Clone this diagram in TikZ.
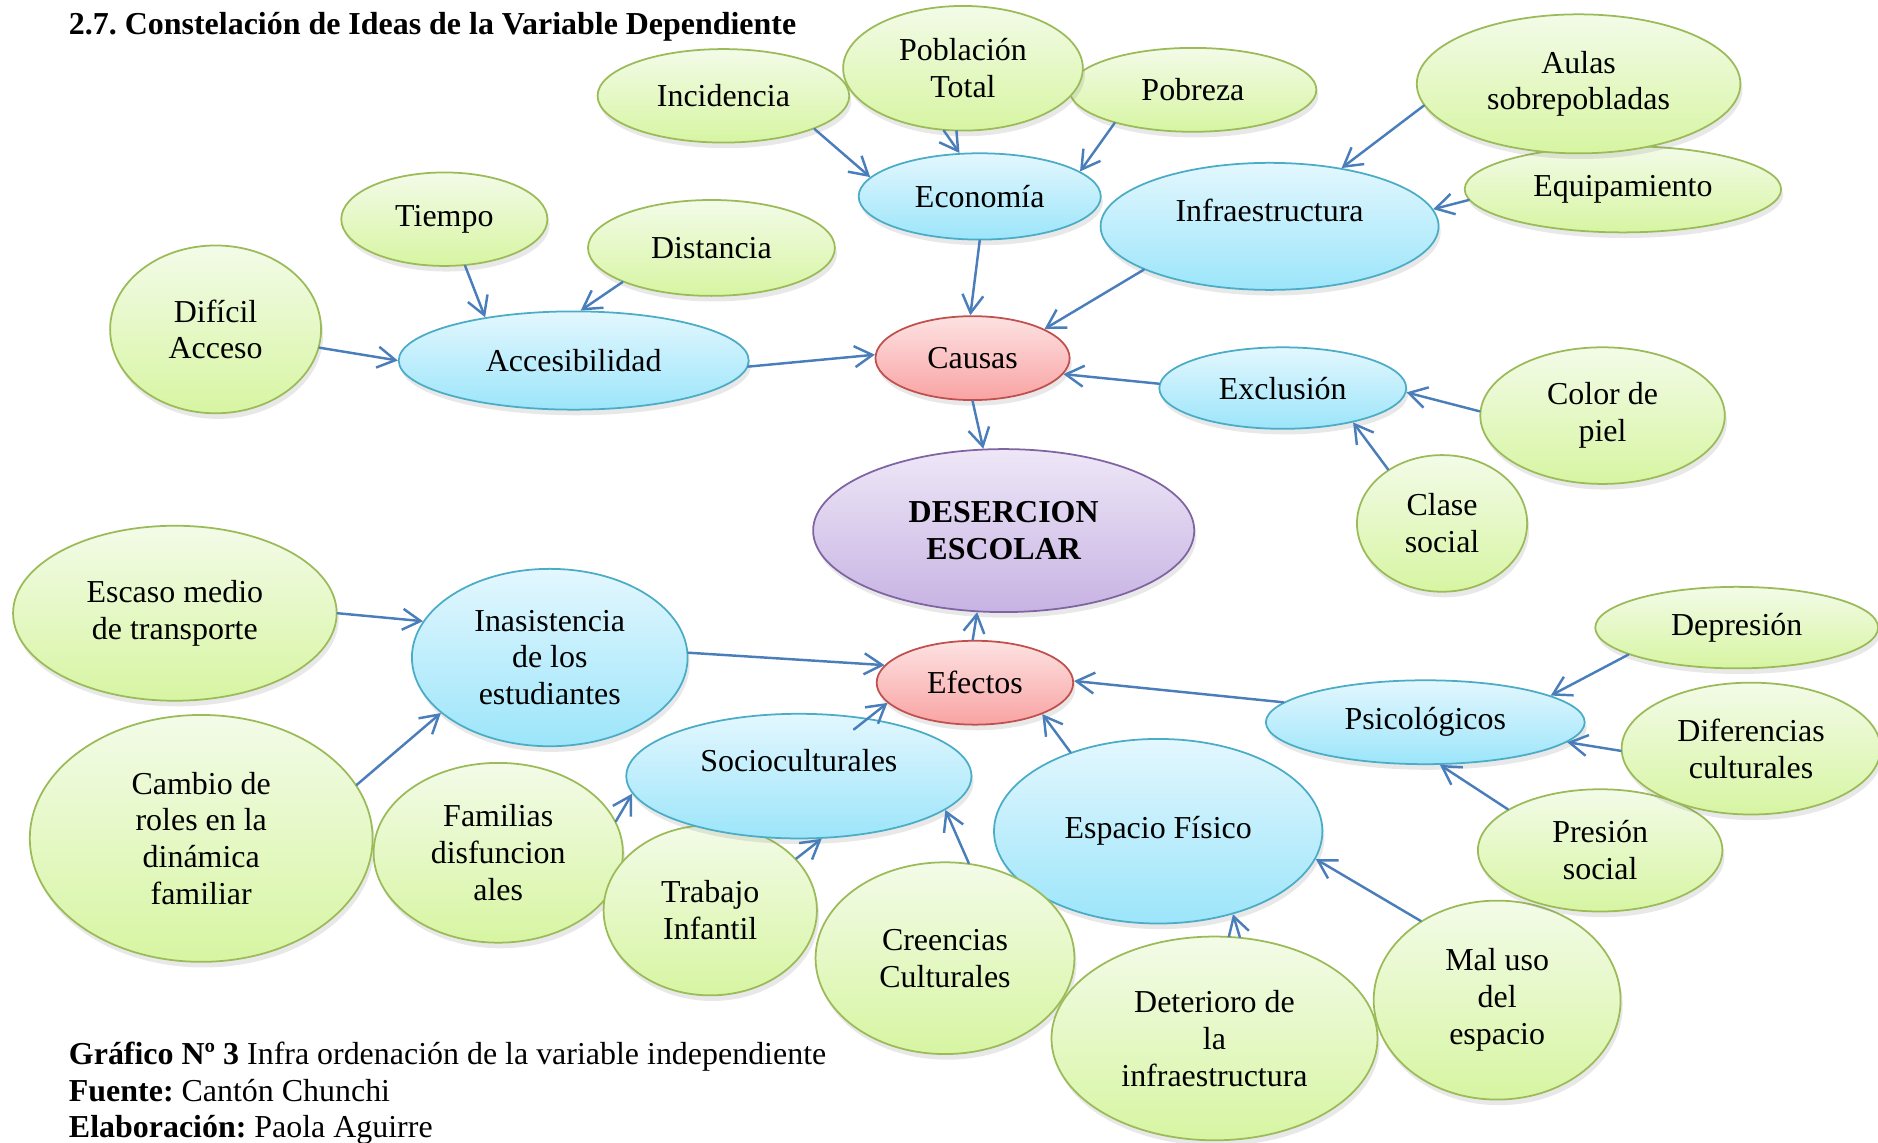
\documentclass[tikz,border=0pt]{standalone}
\usepackage{fontspec}
\setmainfont{Liberation Serif}
\frenchspacing
\usetikzlibrary{shapes.geometric,shadows,arrows.meta}
\definecolor{hojaborde}{HTML}{9BBB59}
\definecolor{hojaarriba}{HTML}{F3FBE8}
\definecolor{hojaabajo}{HTML}{D7F5A2}
\definecolor{ramaborde}{HTML}{4BACC6}
\definecolor{ramaarriba}{HTML}{E3F7FE}
\definecolor{ramaabajo}{HTML}{9CE5FA}
\definecolor{rojoborde}{HTML}{C0504D}
\definecolor{rojoarriba}{HTML}{FDE2E2}
\definecolor{rojoabajo}{HTML}{F9A3A3}
\definecolor{lilaborde}{HTML}{8064A2}
\definecolor{lilaarriba}{HTML}{EEE7F7}
\definecolor{lilaabajo}{HTML}{C7B3E3}
\definecolor{flechaazul}{HTML}{4A7EBB}
\begin{document}
\begin{tikzpicture}[x=0.012cm, y=-0.012cm, font=\fontsize{9.1}{10.5}\selectfont,
    line join=round, line cap=round, >={Straight Barb[length=1.8mm,width=2.1mm]},
    burbuja/.style={ellipse, inner sep=0pt, align=center, line width=0.5pt,
      drop shadow={shadow xshift=0.6pt, shadow yshift=-1.6pt, opacity=0.18}},
    hoja/.style={burbuja, draw=hojaborde, top color=hojaarriba, bottom color=hojaabajo},
    rama/.style={burbuja, draw=ramaborde, top color=ramaarriba, bottom color=ramaabajo},
    nucleo/.style={burbuja, draw=rojoborde, top color=rojoarriba, bottom color=rojoabajo},
    centro/.style={burbuja, draw=lilaborde, top color=lilaarriba, bottom color=lilaabajo},
    tam/.style 2 args={minimum width=#1*0.024cm, minimum height=#2*0.024cm},
    arriba/.style={text depth=0.32cm},
    flecha/.style={->, draw=flechaazul, line width=0.7pt},
    texto/.style={anchor=base west, inner sep=0pt}]
  \useasboundingbox (0,0) rectangle (1568,954);
  \node[texto, font=\fontsize{9.1}{10.5}\selectfont\bfseries] (titulo) at (57,29) {2.7. Constelación de Ideas de la Variable Dependiente};
  % causas
  \node[hoja, tam={105}{39}] (incid) at (604,80) {Incidencia};
  \node[hoja, tam={103}{35}] (pobre) at (996,75) {Pobreza};
  \node[hoja, tam={100}{52}] (pobl) at (804,57) {Población\\Total};
  \node[hoja, tam={132}{36}] (equip) at (1355,158) {Equipamiento};
  \node[hoja, tam={135}{58}] (aulas) at (1318,70) {Aulas\\sobrepobladas};
  \node[rama, tam={101}{36}] (econ) at (818,164) {Economía};
  \node[rama, arriba, tam={141}{53}] (infra) at (1060,189) {Infraestructura};
  \node[hoja, tam={86}{39}] (tiempo) at (371,183) {Tiempo};
  \node[hoja, tam={103}{40}] (dist) at (594,207) {Distancia};
  \node[hoja, tam={88}{70}] (dificil) at (180,275) {Difícil\\Acceso};
  \node[rama, tam={146}{41}] (acces) at (479,301) {Accesibilidad};
  \node[nucleo, tam={81}{35}] (causas) at (812,299) {Causas};
  \node[rama, tam={103}{34}] (excl) at (1071,324) {Exclusión};
  \node[hoja, tam={102}{57}] (color) at (1338,347) {Color de\\piel};
  \node[hoja, tam={71}{57}] (clase) at (1204,437) {Clase\\social};
  \node[centro, tam={159}{68}, font=\fontsize{9.1}{10.5}\selectfont\bfseries] (deser) at (838,443) {DESERCION\\ESCOLAR};
  % efectos
  \node[hoja, tam={135}{73}] (escaso) at (146,512) {Escaso medio\\de transporte};
  \node[rama, tam={115}{74}] (inasis) at (459,549) {Inasistencia\\de los\\estudiantes};
  \node[nucleo, tam={82}{35}] (efectos) at (814,570) {Efectos};
  \node[hoja, tam={143}{103}] (cambio) at (168,700) {Cambio de\\roles en la\\dinámica\\familiar};
  \node[hoja, tam={104}{75}] (famil) at (416,712) {Familias\\disfuncion\\ales};
  \node[hoja, tam={89}{71}] (trabajo) at (593,760) {Trabajo\\Infantil};
  \node[rama, arriba, tam={144}{52}] (socio) at (667,648) {Socioculturales};
  \node[rama, tam={137}{77}] (espacio) at (967,694) {Espacio Físico};
  \node[hoja, tam={108}{80}] (creen) at (789,800) {Creencias\\Culturales};
  \node[hoja, tam={136}{85}] (deter) at (1014,867) {Deterioro de\\la\\infraestructura};
  \node[hoja, tam={103}{83}] (maluso) at (1250,835) {Mal uso\\del\\espacio};
  \node[hoja, tam={118}{34}] (depre) at (1450,524) {Depresión};
  \node[rama, tam={133}{35}] (psico) at (1190,603) {Psicológicos};
  \node[hoja, tam={102}{51}] (presion) at (1336,710) {Presión\\social};
  \node[hoja, tam={108}{55}] (difer) at (1462,625) {Diferencias\\culturales};
  % flechas
  \draw[flecha] (incid.340) -- (econ.170);
  \draw[flecha] (pobl.253) -- (econ.115);
  \draw[flecha] (pobre.203) -- (econ.14);
  \draw[flecha] (aulas.188) -- (infra.39);
  \draw[flecha] (equip.184) -- (infra.6);
  \draw[flecha] (econ.270) -- (causas.93);
  \draw[flecha] (infra.199) -- (causas.22);
  \draw[flecha] (tiempo.294) -- (acces.154);
  \draw[flecha] (dist.201) -- (acces.82);
  \draw[flecha] (dificil.350) -- (acces.180);
  \draw[flecha] (acces.358) -- (causas.178);
  \draw[flecha] (excl.178) -- (causas.350);
  \draw[flecha] (color.178) -- (excl.358);
  \draw[flecha] (clase.135) -- (excl.334);
  \draw[flecha] (causas.270) -- (deser.104);
  \draw[flecha] (efectos.93) -- (deser.252);
  \draw[flecha] (escaso.0) -- (inasis.164);
  \draw[flecha] (cambio.19) -- (inasis.207);
  \draw[flecha] (inasis.2) -- (efectos.169);
  \draw[flecha] ([shift={(46,-39)}]socio.center) -- (efectos.193);
  \draw[flecha] (famil.15) -- (socio.186);
  \draw[flecha] (trabajo.31) -- (socio.290);
  \draw[flecha] (creen.76) -- (socio.347);
  \draw[flecha] (espacio.138) -- (efectos.335);
  \draw[flecha] (psico.172) -- (efectos.1);
  \draw[flecha] (depre.194) -- (psico.12);
  \draw[flecha] (difer.181) -- (psico.352);
  \draw[flecha] (presion.156) -- (psico.289);
  \draw[flecha] (maluso.134) -- (espacio.350);
  \draw[flecha] (deter.76) -- (espacio.312);
  % pie
  \node[texto] (grafico) at (57,889) {\textbf{Gráfico Nº 3} Infra ordenación de la variable independiente};
  \node[texto] (fuente) at (57,920) {\textbf{Fuente:} Cantón Chunchi};
  \node[texto] (elab) at (57,950) {\textbf{Elaboración:} Paola Aguirre};
\end{tikzpicture}
\end{document}
